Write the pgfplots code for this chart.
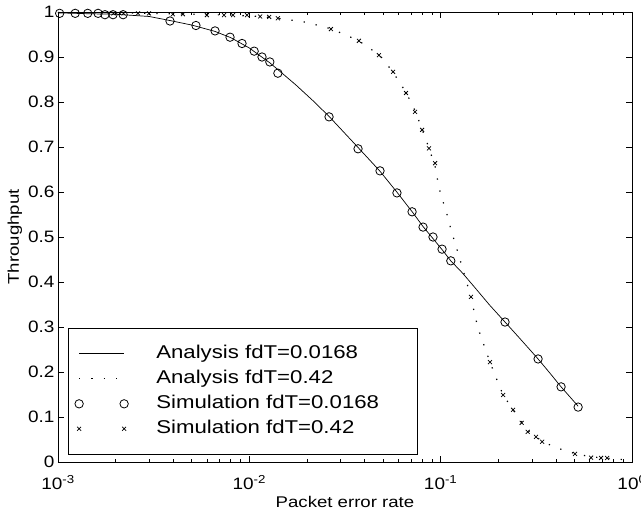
\documentclass[border=0pt]{standalone}
\usepackage{pgfplots}
\pgfplotsset{compat=1.18}
\usepackage{fontspec}
\setmainfont{Liberation Sans}[FakeStretch=1.15]
\newfontfamily\legfont{Liberation Sans}[FakeStretch=1.2]
\newfontfamily\labfont{Liberation Sans}[FakeStretch=1.2]

\pgfplotstableread{
p y
0.001 0.998
0.0015 0.996
0.002 0.995
0.003 0.99
0.00385 0.981
0.005 0.971
0.0066 0.957
0.008 0.943
0.01 0.92
0.0128 0.887
0.0141 0.872
0.0175 0.838
0.0215 0.803
0.0261 0.768
0.037 0.699
0.048 0.647
0.059 0.600
0.071 0.556
0.081 0.523
0.091 0.497
0.1017 0.472
0.113 0.447
0.13 0.42
0.15 0.389
0.18 0.349
0.217 0.311
0.26 0.274
0.323 0.229
0.37 0.199
0.426 0.167
0.523 0.124
}\anaA

\pgfplotstableread{
p y
0.001 0.999
0.002 0.998
0.003 0.997
0.005 0.995
0.008 0.993
0.0114 0.990
0.0141 0.986
0.02 0.977
0.027 0.962
0.037 0.937
0.048 0.904
0.056 0.868
0.066 0.821
0.074 0.778
0.080 0.739
0.087 0.697
0.0935 0.657
0.098 0.61
0.1016 0.586
0.1064 0.56
0.114 0.512
0.1234 0.464
0.134 0.412
0.144 0.367
0.152 0.32
0.159 0.29
0.167 0.264
0.181 0.222
0.2 0.175
0.212 0.149
0.239 0.116
0.265 0.088
0.285 0.071
0.315 0.056
0.339 0.046
0.4 0.032
0.5 0.019
0.6 0.012
0.7 0.009
0.85 0.006
1.0 0.005
}\anaB

\pgfplotstableread{
p y
0.00102 0.997
0.00123 0.997
0.00143 0.997
0.00162 0.997
0.00176 0.994
0.00194 0.994
0.00219 0.994
0.00385 0.980
0.00526 0.970
0.00662 0.958
0.00793 0.944
0.00916 0.930
0.0106 0.913
0.01165 0.900
0.0128 0.889
0.0141 0.864
0.0261 0.767
0.037 0.696
0.0482 0.647
0.0591 0.598
0.0709 0.556
0.0809 0.522
0.0912 0.500
0.1017 0.473
0.113 0.447
0.217 0.311
0.323 0.229
0.426 0.167
0.523 0.122
}\simA

\pgfplotstableread{
p y
0.00195 0.997
0.0022 0.997
0.00262 0.997
0.00299 0.997
0.00399 0.995
0.0045 0.995
0.006 0.993
0.00738 0.993
0.00822 0.993
0.00973 0.993
0.0114 0.990
0.0127 0.989
0.0141 0.986
0.0267 0.962
0.0374 0.936
0.0476 0.904
0.0564 0.867
0.0659 0.820
0.0735 0.778
0.080 0.738
0.0869 0.697
0.0935 0.664
0.144 0.367
0.181 0.222
0.212 0.149
0.239 0.116
0.265 0.087
0.285 0.067
0.315 0.056
0.339 0.045
0.504 0.018
0.611 0.0096
0.689 0.009
0.741 0.009
}\simB

\begin{document}
\begin{tikzpicture}
\begin{axis}[
  at={(0,0)}, anchor=south west,
  scale only axis, width=574bp, height=450bp,
  xmode=log, xmin=1e-3, xmax=1, ymin=0, ymax=1,
  xtick={0.001,0.01,0.1,1},
  xticklabels={10\textsuperscript{-3},10\textsuperscript{-2},10\textsuperscript{-1},10\textsuperscript{0}},
  ytick={0,0.1,0.2,0.3,0.4,0.5,0.6,0.7,0.8,0.9,1},
  yticklabels={0,0.1,0.2,0.3,0.4,0.5,0.6,0.7,0.8,0.9,1},
  tick align=inside, tick pos=both,
  major tick length=6bp, minor tick length=3.5bp,
  every tick/.style={black, line width=0.6bp},
  axis line style={line width=0.8bp},
  tick label style={font=\fontsize{16.5bp}{18bp}\selectfont},
  xticklabel style={yshift=-10bp},
  xlabel={Packet error rate}, ylabel={Throughput},
  label style={font=\labfont\fontsize{15.5bp}{18bp}\selectfont},
  xlabel style={at={(axis description cs:0.5,-0.0889)}, anchor=center},
  ylabel style={at={(axis description cs:-0.075,0.5)}, anchor=center},
  clip=false,
  legend image code/.code={\draw[#1] plot coordinates {(0bp,0bp) (45bp,0bp)};},
  legend cell align=left,
  legend style={at={(rel axis cs:0.0166,0.0156)}, anchor=south west,
    draw=black, line width=0.8bp, fill=white,
    font=\legfont\fontsize{18.5bp}{22bp}\selectfont,
    inner xsep=7bp, inner ysep=16.5bp, row sep=6.5bp,
    nodes={inner xsep=0bp, inner ysep=0bp, text height=14bp, text depth=4.5bp},
    /tikz/every odd column/.append style={column sep=28bp}},
]
\addplot[black, line width=0.7bp, no marks] table[x=p,y=y] {\anaA};
\addlegendentry{\makebox[254bp][l]{Analysis fdT=0.0168}}
\addplot[black, line width=1.2bp, no marks, dash pattern=on 1.3bp off 11bp] table[x=p,y=y] {\anaB};
\addlegendentry{Analysis fdT=0.42}
\addplot[black, only marks, mark=o, mark size=4.2bp, mark options={line width=0.8bp}] table[x=p,y=y] {\simA};
\addlegendentry{Simulation fdT=0.0168}
\addplot[black, only marks, mark=x, mark size=2.8bp, mark options={line width=0.75bp}] table[x=p,y=y] {\simB};
\addlegendentry{Simulation fdT=0.42}
\end{axis}
\pgfresetboundingbox
\useasboundingbox (-58bp,-52bp) rectangle (583bp,462bp);
\end{tikzpicture}
\end{document}
